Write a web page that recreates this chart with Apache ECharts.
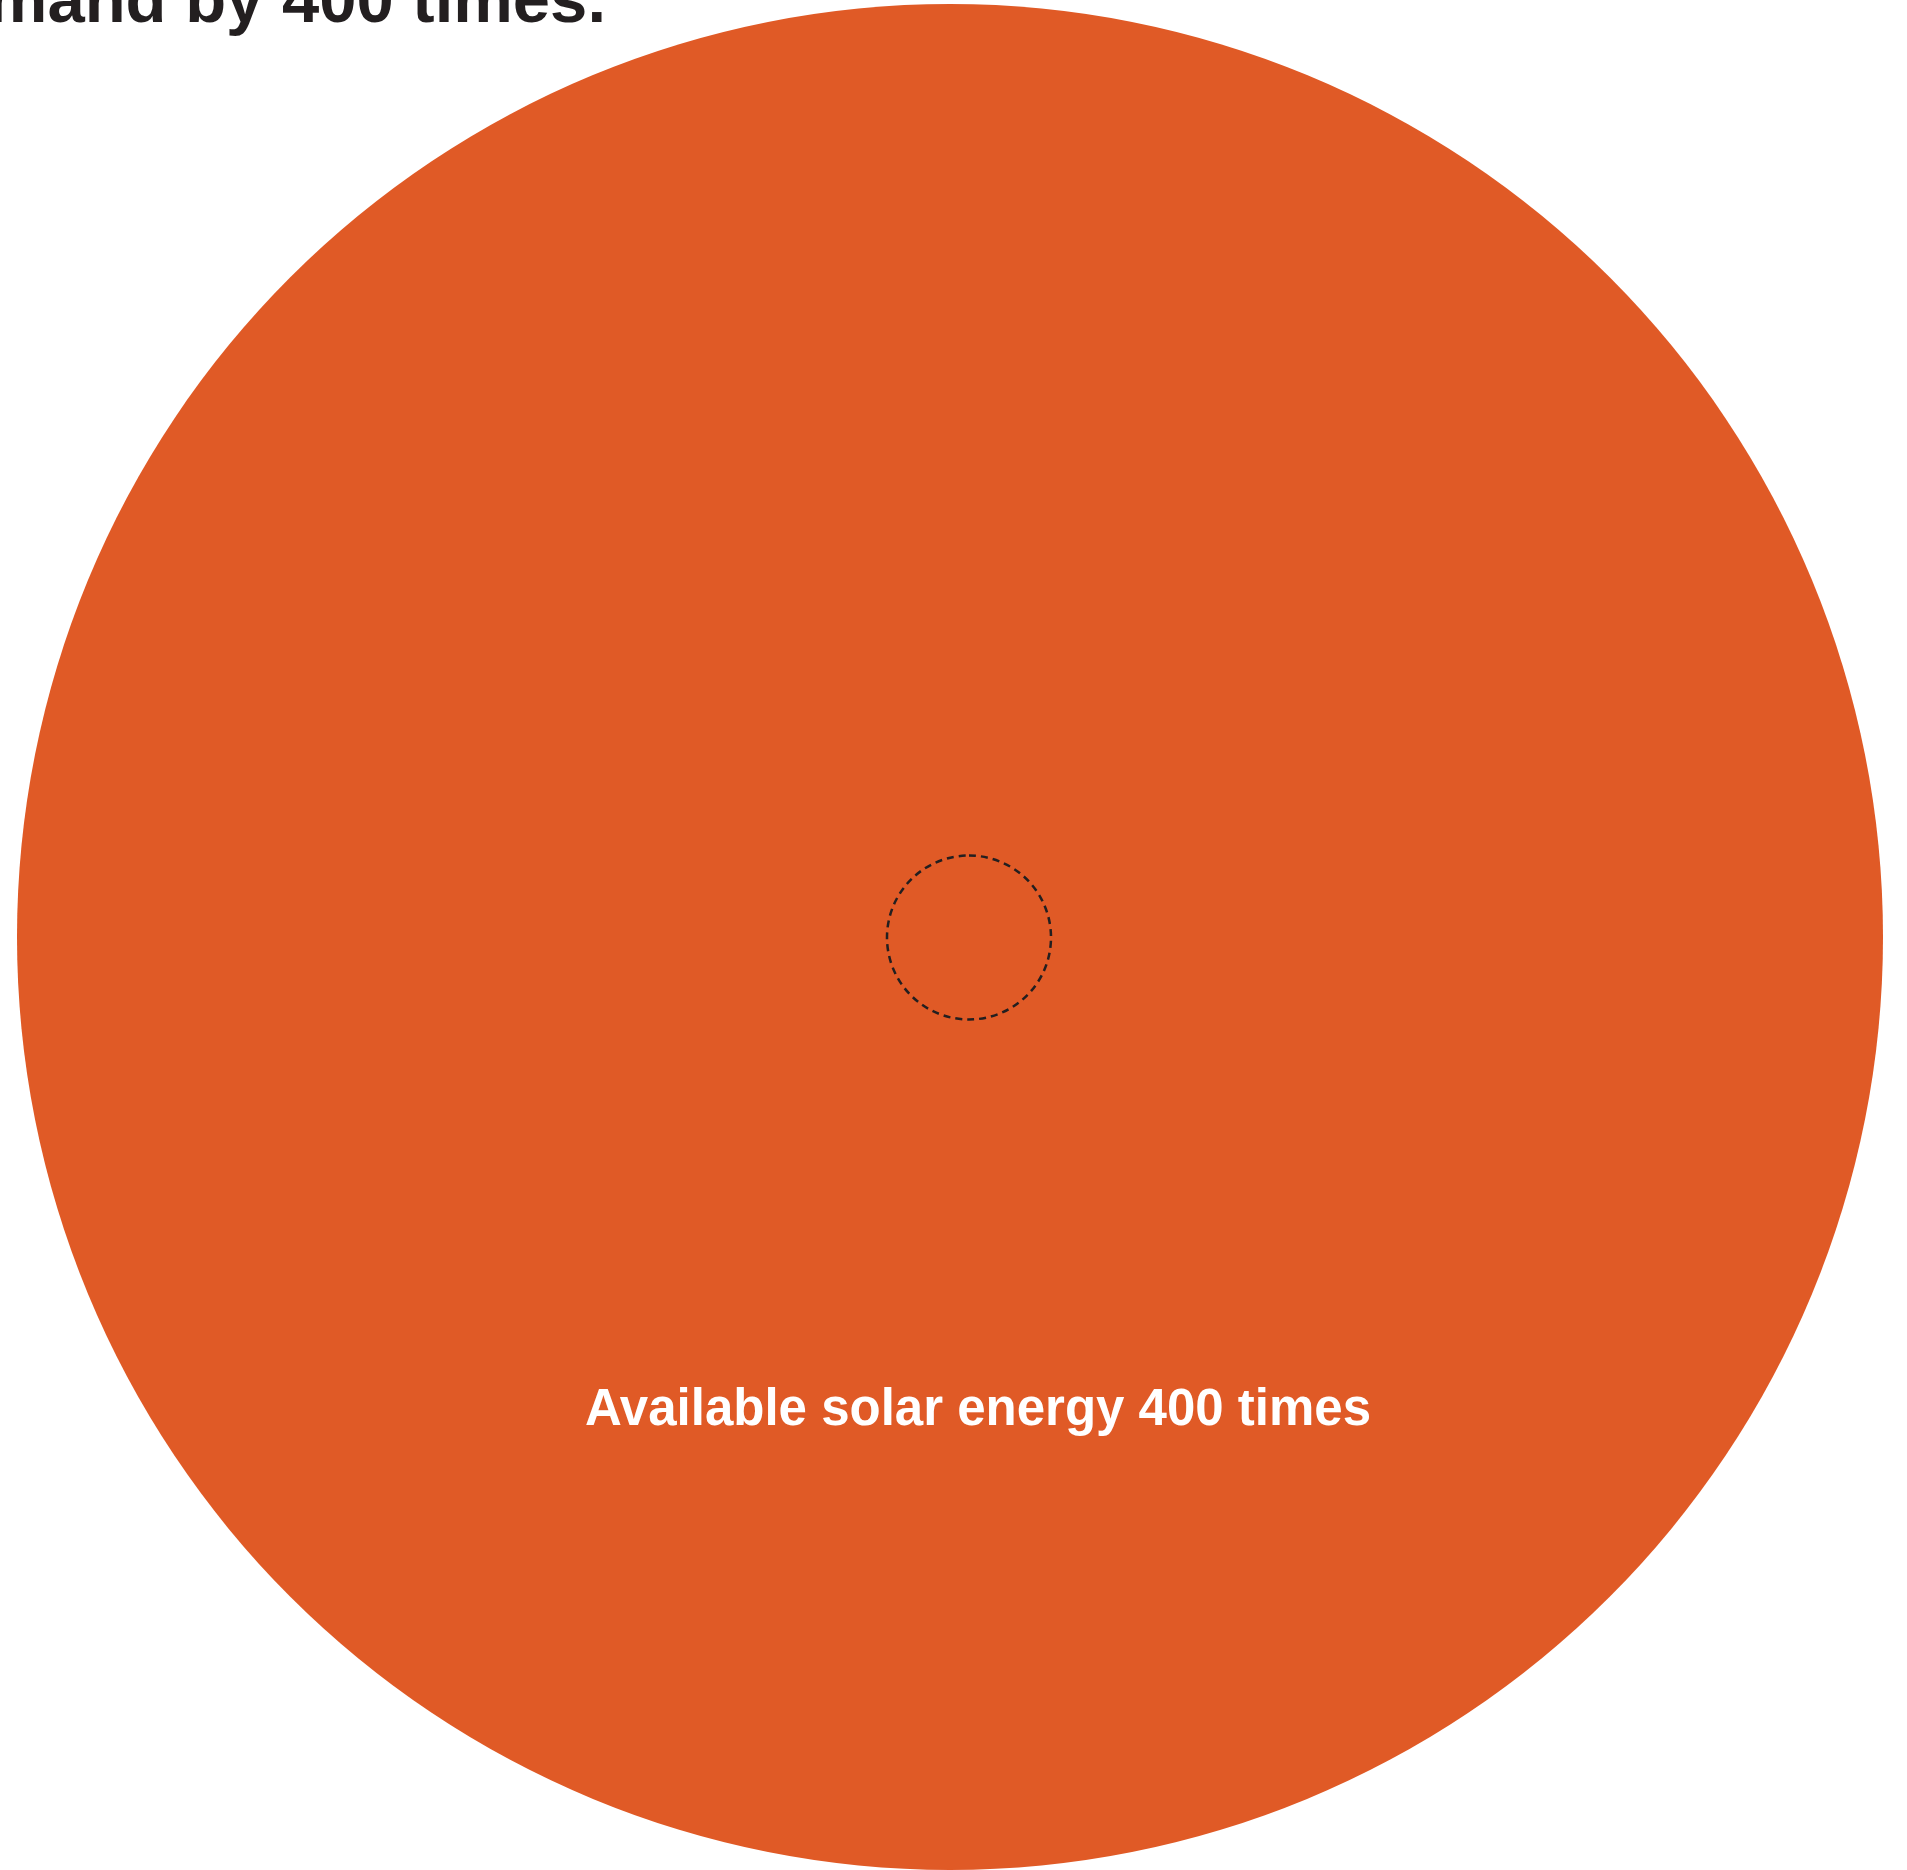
<!DOCTYPE html>
<html>
<head>
<meta charset="utf-8">
<title>Available solar energy vs. demand</title>
<script src="https://cdn.jsdelivr.net/npm/echarts@6/dist/echarts.min.js"></script>
<style>
  html, body { margin: 0; padding: 0; background: #ffffff; }
  #chart { width: 1907px; height: 1870px; }
</style>
</head>
<body>
<div id="chart"></div>
<script>
// Energy comparison: available solar energy relative to global demand (demand = 1)
const categories = ['Available solar energy', 'Global energy demand'];
const multiples = [400, 1];
const unitLabel = 'times';
const headlineTail = 'demand by 400 times.';

const ORANGE = '#E05A26';
const INK = '#231F20';
const FONT = '"Liberation Sans", Arial, Helvetica, sans-serif';

const chart = echarts.init(document.getElementById('chart'), null, { renderer: 'canvas' });

chart.setOption({
  animation: false,
  backgroundColor: '#ffffff',
  series: [
    {
      // large disc: available solar energy
      type: 'pie',
      silent: true,
      z: 1,
      center: [950, 937],
      radius: [0, 933],
      startAngle: 90,
      label: { show: false },
      labelLine: { show: false },
      itemStyle: { color: ORANGE, borderWidth: 0 },
      data: [{ name: categories[0], value: multiples[0] }]
    },
    {
      // dashed outline: current demand
      type: 'pie',
      silent: true,
      z: 2,
      center: [969, 937.5],
      radius: [0, 82],
      startAngle: 90,
      label: { show: false },
      labelLine: { show: false },
      itemStyle: {
        color: 'rgba(0,0,0,0)',
        borderColor: INK,
        borderWidth: 2.5,
        borderType: [7, 5]
      },
      data: [{ name: categories[1], value: multiples[1] }]
    }
  ],
  graphic: [
    {
      type: 'text',
      silent: true,
      z: 100,
      x: 606,
      y: 4,
      style: {
        text: headlineTail,
        font: 'bold 67px ' + FONT,
        fill: INK,
        align: 'right',
        verticalAlign: 'middle'
      }
    },
    {
      type: 'text',
      silent: true,
      z: 100,
      x: 978,
      y: 1411,
      style: {
        text: categories[0] + ' ' + multiples[0] + ' ' + unitLabel,
        font: 'bold 51px ' + FONT,
        fill: '#ffffff',
        align: 'center',
        verticalAlign: 'middle'
      }
    }
  ]
});
</script>
</body>
</html>
